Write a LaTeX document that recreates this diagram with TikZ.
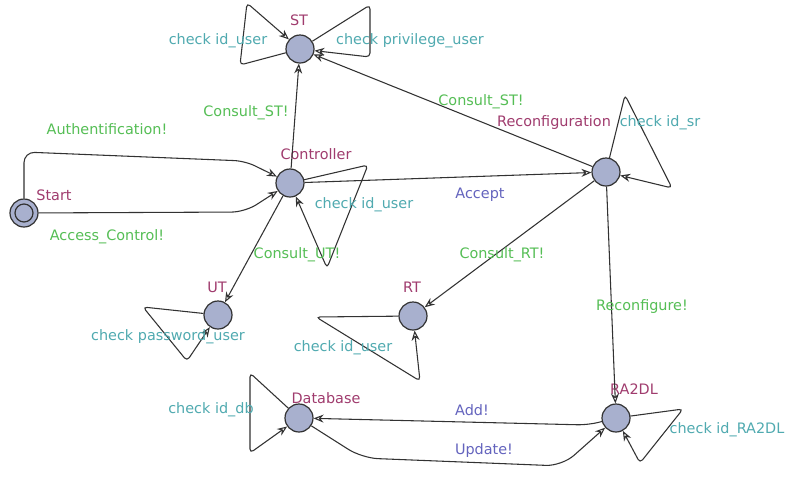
\documentclass[tikz,border=0pt]{standalone}
\usepackage{fontspec}
\setmainfont{DejaVu Sans}
\usetikzlibrary{arrows.meta}
\definecolor{locfill}{RGB}{168,176,206}
\definecolor{locname}{RGB}{160,60,110}
\definecolor{sync}{RGB}{85,190,85}
\definecolor{upd}{RGB}{80,170,176}
\definecolor{blu}{RGB}{100,100,190}
\definecolor{edge}{RGB}{50,50,50}
\tikzset{
  loc/.style={circle,draw=edge,line width=0.9pt,fill=locfill,minimum size=21pt,inner sep=0pt},
  e/.style={draw=edge,line width=0.8pt,rounded corners=3pt,-{Stealth[open,fill=white,length=7.5pt,width=6pt,inset=2.5pt]}},
  lbl/.style={font=\fontsize{10.8}{12}\selectfont,inner sep=0pt,anchor=center},
  nm/.style={lbl,text=locname},
  sy/.style={lbl,text=sync},
  up/.style={lbl,text=upd},
  bl/.style={lbl,text=blu}
}
\begin{document}
\begin{tikzpicture}[x=0.75pt,y=-0.75pt]
\useasboundingbox (0,0) rectangle (790,476);
\fill[white] (0,0) rectangle (790,476);
% locations
\node[loc] (st) at (300,49) {};
\node[loc] (ctrl) at (290,183) {};
\node[loc] (start) at (24,213) {};
\node[loc,minimum size=13.5pt] (starti) at (24,213) {};
\node[loc] (rc) at (606,172) {};
\node[loc] (ut) at (218,315) {};
\node[loc] (rt) at (413,316) {};
\node[loc] (db) at (299,418) {};
\node[loc] (ra) at (616,418) {};
% names
\node[nm] at (299,20) {ST};
\node[nm] at (316,154) {Controller};
\node[nm] at (54,195) {Start};
\node[nm] at (554,123) {Reconfiguration};
\node[nm] at (217,287) {UT};
\node[nm] at (412,287) {RT};
\node[nm] at (326,398) {Database};
\node[nm] at (634,389) {RA2DL};
% edges
\draw[e,rounded corners=8pt] (start) -- (24,152) -- (245,161) -- (ctrl);
\draw[e,rounded corners=10pt] (start) -- (245,212) -- (ctrl);
\draw[e] (ctrl) -- (st);
\draw[e] (rc) -- (st);
\draw[e] (ctrl) -- (rc);
\draw[e] (ctrl) -- (368,165) -- (327,268) -- (ctrl);
\draw[e] (ctrl) -- (ut);
\draw[e] (rc) -- (rt);
\draw[e] (rc) -- (ra);
\draw[e] (rc) -- (625,95) -- (672,188) -- (rc);
\draw[e] (st) -- (240,65) -- (247,3) -- (st);
\draw[e] (st) -- (370,5) -- (370,57) -- (st);
\draw[e] (ut) -- (143,307) -- (187,361) -- (ut);
\draw[e] (rt) -- (316,317) -- (420,381) -- (rt);
\draw[e] (db) -- (250,373) -- (250,453) -- (db);
\draw[e,rounded corners=8pt] (ra) -- (588,425) -- (db);
\draw[e,rounded corners=12pt] (db) -- (362,458) -- (562,466) -- (ra);
\draw[e] (ra) -- (683,409) -- (640,463) -- (ra);
% labels
\node[up] at (218,41) {check id\_user};
\node[up] at (410,41) {check privilege\_user};
\node[sy] at (246,113) {Consult\_ST!};
\node[sy] at (107,129) {Authentification!};
\node[sy] at (107,237) {Access\_Control!};
\node[sy] at (481,102) {Consult\_ST!};
\node[up] at (660,123) {check id\_sr};
\node[bl] at (480,195) {Accept};
\node[up] at (364,205) {check id\_user};
\node[sy] at (297,255) {Consult\_UT!};
\node[sy] at (502,255) {Consult\_RT!};
\node[sy] at (642,307) {Reconfigure!};
\node[up] at (168,337) {check password\_user};
\node[up] at (343,348) {check id\_user};
\node[up] at (211,410) {check id\_db};
\node[bl] at (472,410) {Add!};
\node[bl] at (484,451) {Update!};
\node[up] at (727,430) {check id\_RA2DL};
\end{tikzpicture}
\end{document}
